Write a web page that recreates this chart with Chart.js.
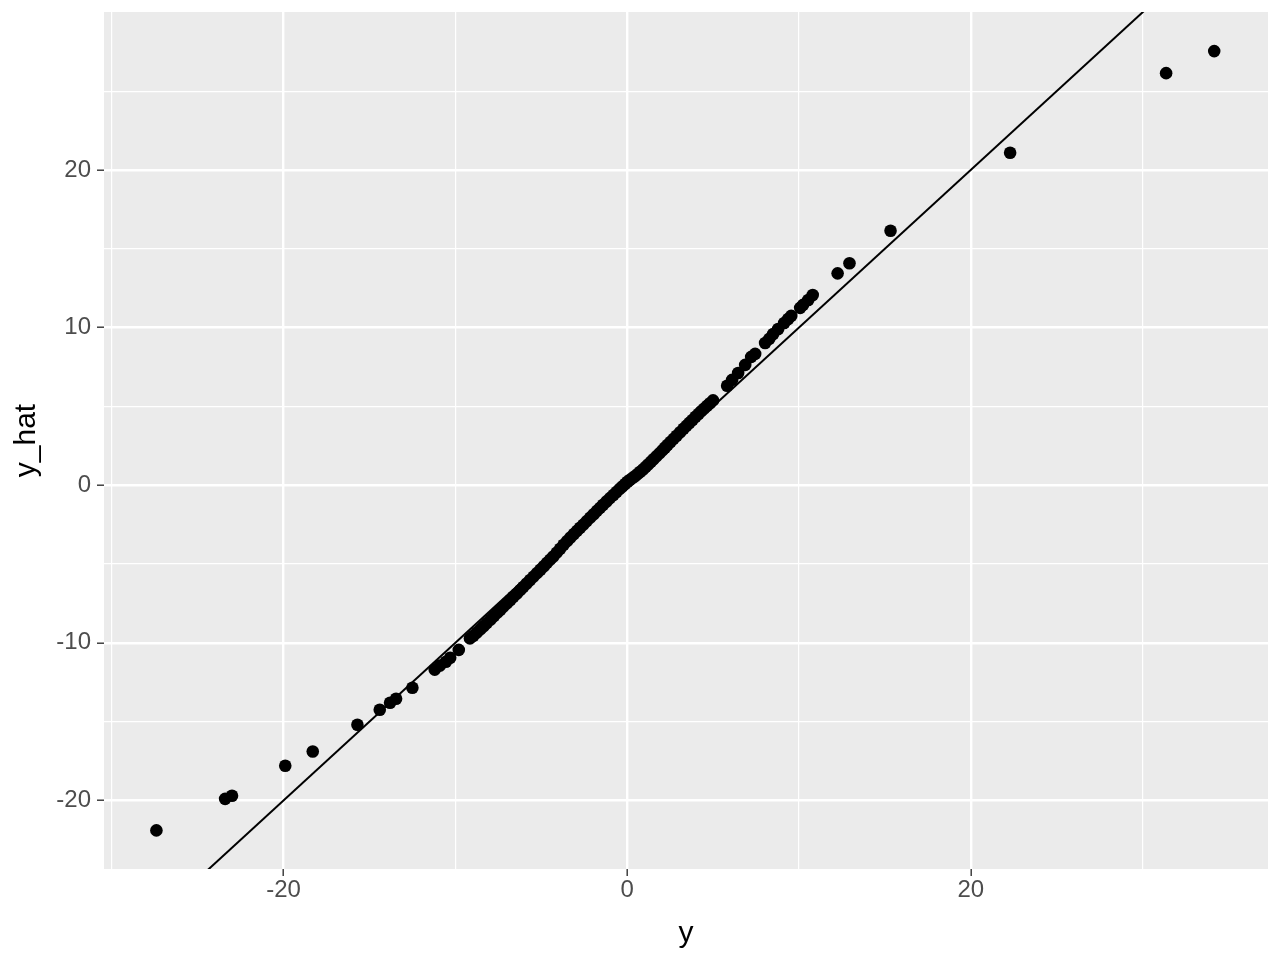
<!DOCTYPE html>
<html>
<head>
<meta charset="utf-8">
<script src="https://cdn.jsdelivr.net/npm/chart.js@4.4.1/dist/chart.umd.min.js"></script>
<style>
    body { margin: 0; background: #FFFFFF; }
    canvas { display: block; }
</style>
</head>
<body>
<canvas id="chart" width="1280" height="960"></canvas>
<script>
const yObs = [
    -27.4, -23.4, -23.0, -19.9, -18.3, -15.7, -14.4, -13.8, -13.45, -12.5,
    -11.2, -10.9, -10.55, -10.3, -9.8,
    -9.15, -8.95, -8.75, -8.55, -8.36, -8.17, -7.95, -7.75, -7.55, -7.38,
    -7.20, -7.00, -6.80, -6.62, -6.42, -6.23, -6.05, -5.85, -5.65, -5.45,
    -5.25, -5.05, -4.85, -4.67, -4.48, -4.30, -4.10, -3.90, -3.70, -3.50,
    -3.30, -3.10, -2.92, -2.74, -2.55, -2.35, -2.15, -1.95, -1.76, -1.58,
    -1.40, -1.20, -1.00, -0.80, -0.62, -0.45, -0.28, -0.12, 0.02, 0.15,
    0.30, 0.45, 0.60, 0.76, 0.92, 1.08, 1.22, 1.38, 1.53, 1.70,
    1.88, 2.05, 2.20, 2.35, 2.52, 2.70, 2.88, 3.08, 3.28, 3.45,
    3.62, 3.80, 3.98, 4.15, 4.30, 4.48, 4.65, 4.82, 5.00,
    5.82, 6.11, 6.46, 6.87, 7.22, 7.45, 8.03, 8.27, 8.50, 8.79,
    9.14, 9.37, 9.55, 10.07, 10.24, 10.54, 10.80, 12.25, 12.94, 15.33,
    22.29, 31.37, 34.17
];
const yHat = [
    -21.9, -19.9, -19.7, -17.8, -16.9, -15.2, -14.25, -13.8, -13.55, -12.85,
    -11.7, -11.45, -11.2, -10.95, -10.45,
    -9.72, -9.55, -9.35, -9.15, -8.95, -8.75, -8.52, -8.30, -8.08, -7.90,
    -7.70, -7.50, -7.28, -7.08, -6.88, -6.66, -6.46, -6.24, -6.02, -5.80,
    -5.58, -5.36, -5.14, -4.93, -4.72, -4.52, -4.28, -4.03, -3.78, -3.55,
    -3.32, -3.10, -2.90, -2.70, -2.50, -2.28, -2.06, -1.84, -1.63, -1.44,
    -1.24, -1.03, -0.82, -0.62, -0.43, -0.25, -0.08, 0.08, 0.22, 0.33,
    0.45, 0.57, 0.70, 0.85, 1.00, 1.16, 1.31, 1.48, 1.65, 1.83,
    2.02, 2.21, 2.38, 2.55, 2.74, 2.94, 3.14, 3.36, 3.58, 3.76,
    3.95, 4.14, 4.34, 4.52, 4.68, 4.86, 5.03, 5.20, 5.38,
    6.31, 6.68, 7.12, 7.63, 8.14, 8.33, 9.02, 9.28, 9.59, 9.91,
    10.29, 10.54, 10.74, 11.25, 11.44, 11.75, 12.07, 13.44, 14.08, 16.14,
    21.09, 26.14, 27.54
];

// identity line y_hat = y, ends past the panel (clipped)
const lineEnds = [-40, 40];

const xRange = [-30.45, 37.3];
const yRange = [-24.35, 30.02];
const xGrid = [-30, -20, -10, 0, 10, 20, 30];
const xLabels = [-20, 0, 20];
const yGrid = [-20, -15, -10, -5, 0, 5, 10, 15, 20, 25];
const yLabels = [-20, -10, 0, 10, 20];

const FONT = '"Liberation Sans", Arial, Helvetica, sans-serif';

const points = yObs.map((v, i) => ({ x: v, y: yHat[i] }));
const idLine = lineEnds.map(v => ({ x: v, y: v }));

// grey panel like ggplot
const panelBg = {
    id: 'panelBg',
    beforeDraw(chart) {
        const { ctx, chartArea: a } = chart;
        ctx.save();
        ctx.fillStyle = '#EBEBEB';
        ctx.fillRect(a.left, a.top, a.right - a.left, a.bottom - a.top);
        ctx.restore();
    }
};

const isMajor = (labels, c) => c.tick && labels.includes(c.tick.value);

new Chart(document.getElementById('chart'), {
    type: 'scatter',
    data: {
        datasets: [
            {
                data: points,
                pointRadius: 6.3,
                pointBackgroundColor: '#000000',
                pointBorderWidth: 0,
                order: 2
            },
            {
                data: idLine,
                showLine: true,
                pointRadius: 0,
                borderColor: '#000000',
                borderWidth: 2,
                order: 1
            }
        ]
    },
    options: {
        responsive: false,
        animation: false,
        devicePixelRatio: 1,
        layout: { padding: { top: 12, right: 12, left: 0, bottom: 0 } },
        plugins: {
            legend: { display: false },
            tooltip: { enabled: false }
        },
        scales: {
            x: {
                type: 'linear',
                min: xRange[0],
                max: xRange[1],
                afterBuildTicks: s => { s.ticks = xGrid.map(v => ({ value: v })); },
                afterFit: s => { s.height = 91; s.paddingLeft = 0; s.paddingRight = 0; },
                border: { display: false },
                grid: {
                    color: '#FFFFFF',
                    lineWidth: c => isMajor(xLabels, c) ? 2.4 : 1.2,
                    tickLength: 7,
                    tickWidth: 1.4,
                    tickColor: c => isMajor(xLabels, c) ? '#333333' : 'rgba(0,0,0,0)'
                },
                ticks: {
                    autoSkip: false,
                    maxRotation: 0,
                    padding: 0,
                    color: '#4D4D4D',
                    font: { family: FONT, size: 24 },
                    callback: v => xLabels.includes(v) ? String(v) : ''
                },
                title: {
                    display: true,
                    text: 'y',
                    color: '#000000',
                    font: { family: FONT, size: 30 },
                    padding: { top: 0, bottom: 8 }
                }
            },
            y: {
                type: 'linear',
                min: yRange[0],
                max: yRange[1],
                afterBuildTicks: s => { s.ticks = yGrid.map(v => ({ value: v })); },
                afterFit: s => { s.width = 104; s.paddingTop = 0; s.paddingBottom = 0; },
                border: { display: false },
                grid: {
                    color: '#FFFFFF',
                    lineWidth: c => isMajor(yLabels, c) ? 2.4 : 1.2,
                    tickLength: 7,
                    tickWidth: 1.4,
                    tickColor: c => isMajor(yLabels, c) ? '#333333' : 'rgba(0,0,0,0)'
                },
                ticks: {
                    autoSkip: false,
                    padding: 6,
                    color: '#4D4D4D',
                    font: { family: FONT, size: 24 },
                    callback: v => yLabels.includes(v) ? String(v) : ''
                },
                title: {
                    display: true,
                    text: 'y_hat',
                    color: '#000000',
                    font: { family: FONT, size: 30 },
                    padding: { top: 9, bottom: 0 }
                }
            }
        }
    },
    plugins: [panelBg]
});
</script>
</body>
</html>
